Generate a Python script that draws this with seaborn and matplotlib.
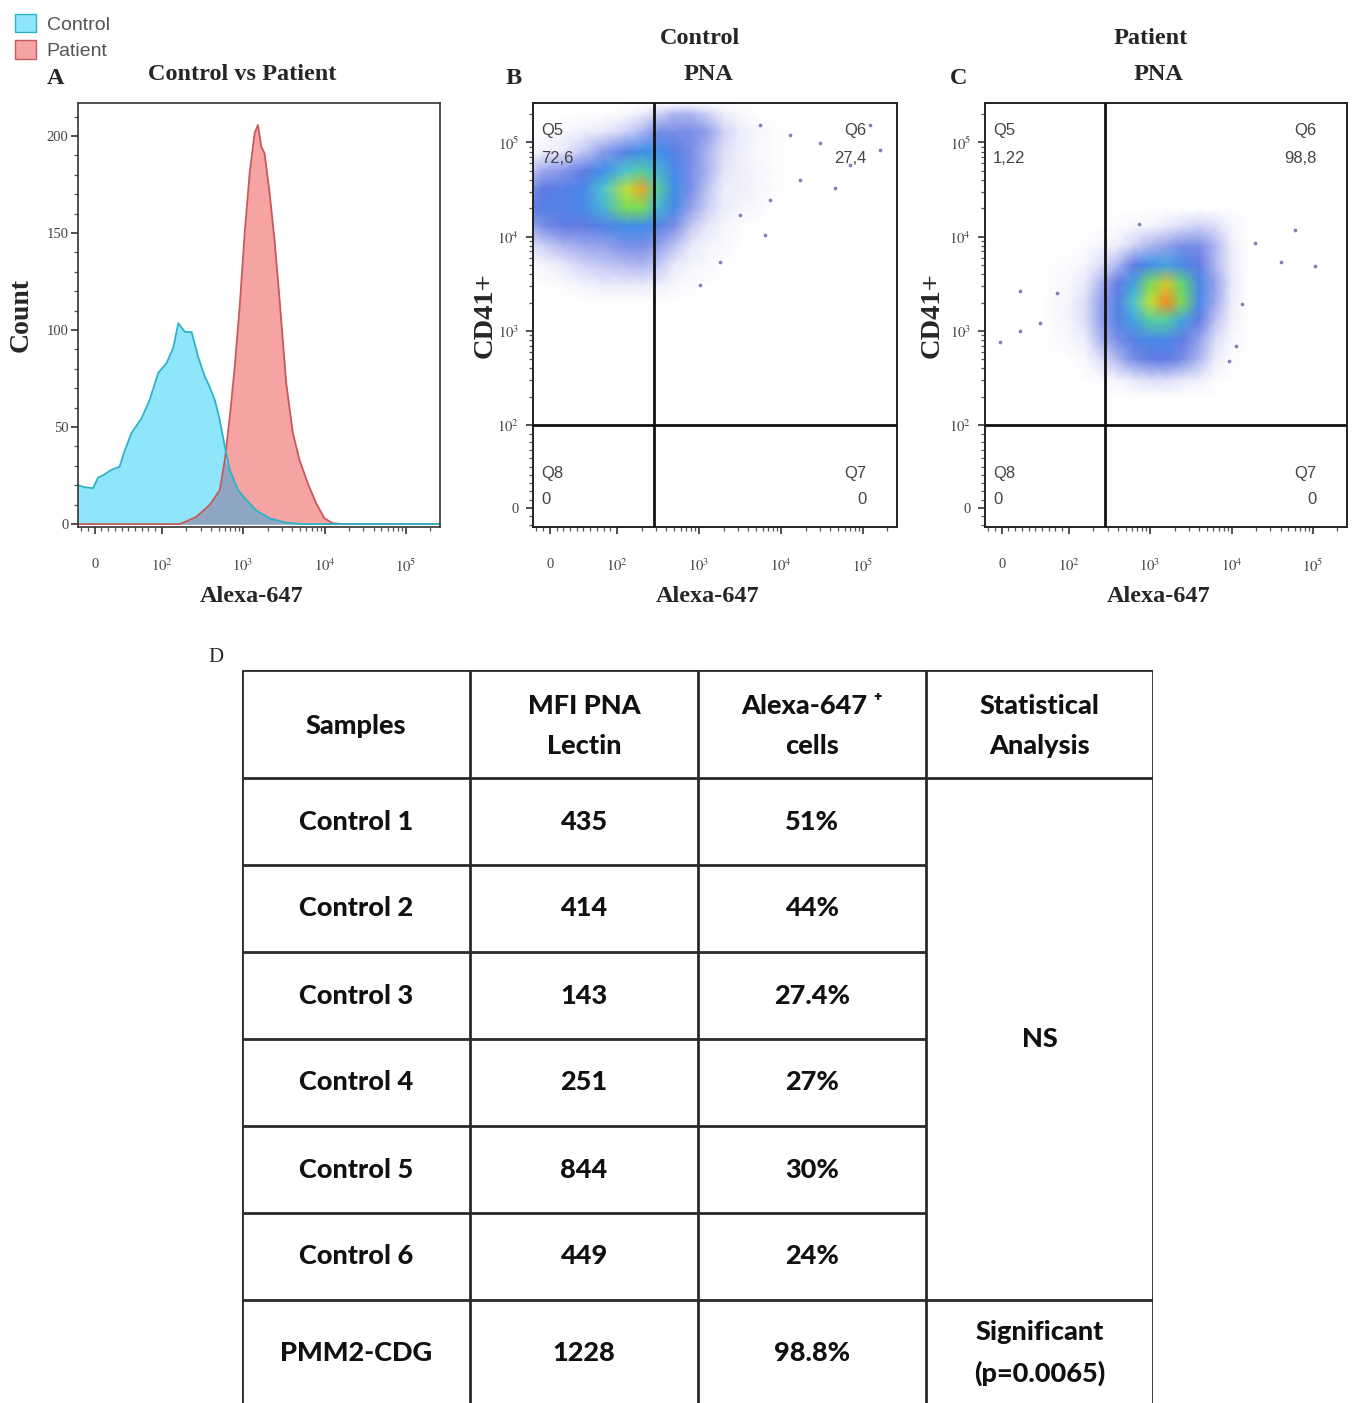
import numpy as np
import matplotlib
matplotlib.use("Agg")
import matplotlib.pyplot as plt
import seaborn as sns
from matplotlib.colors import LinearSegmentedColormap
from matplotlib.patches import Patch
from matplotlib.ticker import FixedLocator, FixedFormatter, MultipleLocator

# ---------------- data ----------------
# A: histogram of Alexa-647 (fluorescence value, count)
ctrl_x = [-25, -15, -2.5, 5, 12, 25, 37, 45, 55, 70, 82, 95, 115, 139, 160, 193, 233, 281,
          339, 372, 449, 517, 596, 686, 867, 1097, 1454, 2117, 3388, 5360, 262144]
ctrl_count = [20, 19, 18.5, 24, 25, 28, 29.5, 38, 47, 54.5, 64, 78, 83, 91, 103.5, 99, 99, 86,
              76, 72.5, 64, 53.6, 40, 28, 17.5, 12.4, 7, 3, 0.7, 0, 0]
pat_x = [-25, 168, 268, 390, 517, 596, 686, 789, 908, 1046, 1205, 1387, 1521, 1674, 1837,
         2117, 2438, 2808, 3388, 4083, 4931, 6237, 7889, 9970, 12500, 16570, 262144]
pat_count = [0, 0, 3.8, 10, 17.5, 33, 55, 81, 112, 150, 181, 201.5, 205.7, 194.5, 191,
             170.6, 146, 115.5, 72.5, 47, 33, 21, 10.8, 3, 0.5, 0, 0]

# B: Control PNA, event density read on a grid (rows listed from top to bottom)
b_gx = [-25, -10, 20, 50, 80, 130, 200, 320, 500, 800, 1300, 2000, 3200, 5000, 8000, 13000]
b_gy = [262144, 200000, 130000, 80000, 50000, 32000, 20000, 13000, 8000, 5000, 3000, 2000]
b_density = [
    [0, 0, 0, 0, 0, 0, 0, 0, 0, 0, 0, 0, 0, 0, 0, 0],
    [0, 0, 0, 0, 0, 0.2, 0.5, 1, 1.5, 1.5, 1, 0.5, 0.2, 0, 0, 0],
    [0, 0, 0.2, 0.4, 0.6, 1, 1.5, 2.5, 2.5, 2.5, 2, 1, 0.5, 0.3, 0.1, 0],
    [0.2, 0.4, 0.6, 1.2, 2.2, 3.5, 4.5, 4.5, 3.5, 2.5, 1.5, 0.8, 0.4, 0.2, 0.1, 0],
    [1.3, 1.8, 2.3, 3, 4.5, 6, 6.5, 5.5, 4, 2.5, 1.5, 0.7, 0.4, 0.3, 0.1, 0],
    [2.5, 3, 3.5, 4, 6, 8.5, 9.5, 6.5, 4.5, 2.5, 1.2, 0.5, 0.4, 0.3, 0.1, 0],
    [3, 3.5, 3.5, 4, 5.5, 7.5, 7.5, 5.5, 4, 2, 1, 0.5, 0.3, 0.2, 0, 0],
    [2, 2.5, 3, 3, 3.5, 4.5, 4.5, 3.5, 2.5, 1.2, 0.6, 0.3, 0.1, 0, 0, 0],
    [0.8, 1, 1.5, 1.8, 2, 2.5, 2.5, 2, 1.3, 0.6, 0.3, 0.2, 0, 0, 0, 0],
    [0.2, 0.3, 0.6, 1, 1.2, 1.4, 1.5, 1.2, 0.6, 0.3, 0.2, 0, 0, 0, 0, 0],
    [0, 0, 0.1, 0.3, 0.5, 0.5, 0.5, 0.4, 0.2, 0.1, 0, 0, 0, 0, 0, 0],
    [0, 0, 0, 0, 0, 0, 0, 0, 0, 0, 0, 0, 0, 0, 0, 0],
]
b_out_x = [5520, 12800, 30000, 69700, 17100, 7360, 45700, 3160, 6380, 1800, 1030, 122000, 162000]
b_out_y = [152800, 119400, 98400, 57400, 39800, 24400, 32700, 16900, 10400, 5380, 3070, 152800, 82800]

# C: Patient PNA
c_gx = [60, 100, 160, 250, 400, 630, 1000, 1600, 2500, 4000, 6300, 10000, 16000]
c_gy = [20000, 13000, 8000, 5000, 3200, 2000, 1300, 800, 500, 300, 200]
c_density = [
    [0, 0, 0, 0, 0, 0, 0, 0, 0, 0, 0, 0, 0],
    [0, 0, 0, 0, 0.1, 0.2, 0.3, 0.6, 0.8, 1, 0.8, 0.3, 0],
    [0, 0, 0.1, 0.3, 0.5, 1, 1.5, 2, 2.5, 2.5, 1.5, 0.5, 0],
    [0, 0.1, 0.3, 0.8, 1.5, 3, 4.5, 5, 4, 3, 1.5, 0.5, 0],
    [0, 0.2, 0.6, 1.5, 3, 5, 7.5, 9, 7, 4, 2, 0.6, 0],
    [0, 0.3, 0.8, 2, 3.5, 6, 8.5, 10, 7.5, 4, 1.8, 0.5, 0],
    [0, 0.3, 0.8, 2, 3.5, 5, 6.5, 6.5, 5, 3, 1.3, 0.4, 0],
    [0, 0.2, 0.5, 1.5, 2.5, 3.5, 4, 4, 3, 2, 0.8, 0.2, 0],
    [0, 0, 0.2, 0.8, 1.5, 2.5, 3, 3, 2.5, 1.5, 0.5, 0.1, 0],
    [0, 0, 0, 0.1, 0.3, 0.6, 0.8, 0.8, 0.6, 0.4, 0.1, 0, 0],
    [0, 0, 0, 0, 0, 0, 0, 0, 0, 0, 0, 0, 0],
]
c_out_x = [27, -2.7, 27, 57, 82, 60500, 106000, 40800, 19700, 733, 13300, 11200, 9200]
c_out_y = [2650, 762, 998, 1210, 2520, 11700, 4880, 5380, 8550, 13600, 1930, 692, 480]

gate_x = 280
gate_y = 100
b_quads = ["72,6", "27,4", "0", "0"]   # Q5, Q6, Q8, Q7
c_quads = ["1,22", "98,8", "0", "0"]

# D: table
samples = ["Control 1", "Control 2", "Control 3", "Control 4", "Control 5", "Control 6", "PMM2-CDG"]
mfi_pna = [435, 414, 143, 251, 844, 449, 1228]
alexa_pos = ["51%", "44%", "27.4%", "27%", "30%", "24%", "98.8%"]
headers = ["Samples", "MFI PNA\nLectin", "Alexa-647 \u207a\ncells", "Statistical\nAnalysis"]
stat_ctrl = "NS"
stat_pat = "Significant\n(p=0.0065)"

# ---------------- style ----------------
sns.set_theme(style="ticks")
plt.rcParams['font.family'] = ['Liberation Serif', 'DejaVu Serif']
plt.rcParams['mathtext.fontset'] = 'stix'

W, H = 1352, 1403
fig = plt.figure(figsize=(W / 100, H / 100), dpi=100)
fig.patch.set_facecolor('white')


def fxy(px, py):
    return px / W, 1 - py / H


def ax_rect(left, top, right, bottom):
    return [left / W, 1 - bottom / H, (right - left) / W, (bottom - top) / H]


serif_bold = dict(family=['Liberation Serif', 'DejaVu Serif'], fontweight='bold')
major = [0, 1e2, 1e3, 1e4, 1e5]
major_lbl = ['0', r'$10^{2}$', r'$10^{3}$', r'$10^{4}$', r'$10^{5}$']
minor = [-20, -10] + list(range(10, 100, 10)) + [m * 10 ** k for k in range(2, 6) for m in range(2, 10)]


def flow_axis(ax, which):
    axis = ax.xaxis if which == 'x' else ax.yaxis
    axis.set_major_locator(FixedLocator(major))
    axis.set_major_formatter(FixedFormatter(major_lbl))
    axis.set_minor_locator(FixedLocator(minor))


ctrl_fill, ctrl_edge = '#8fe6fa', '#2bb3c6'
pat_fill, pat_edge = '#f5a3a3', '#c8585a'
overlap_fill = '#8ea6c2'

# ---------------- A: histogram ----------------
axA = fig.add_axes(ax_rect(78, 103, 440, 527))
axA.set_xscale('symlog', linthresh=100, linscale=0.74, base=10)
axA.set_xlim(-25, 262144)
axA.set_ylim(-1.5, 217)

axA.fill_between(pat_x, 0, pat_count, color=pat_fill, lw=0)
axA.fill_between(ctrl_x, 0, ctrl_count, color=ctrl_fill, lw=0)
tr = axA.xaxis.get_transform()
grid = np.union1d(ctrl_x, pat_x)
tg = tr.transform(grid.reshape(-1, 1)).ravel()
c_i = np.interp(tg, tr.transform(np.reshape(ctrl_x, (-1, 1))).ravel(), ctrl_count)
p_i = np.interp(tg, tr.transform(np.reshape(pat_x, (-1, 1))).ravel(), pat_count)
axA.fill_between(grid, 0, np.minimum(c_i, p_i), color=overlap_fill, lw=0)
sns.lineplot(x=pat_x, y=pat_count, ax=axA, color=pat_edge, lw=1.3, sort=False, estimator=None)
sns.lineplot(x=ctrl_x, y=ctrl_count, ax=axA, color=ctrl_edge, lw=1.3, sort=False, estimator=None)

flow_axis(axA, 'x')
axA.yaxis.set_major_locator(FixedLocator([0, 50, 100, 150, 200]))
axA.yaxis.set_minor_locator(MultipleLocator(10))
axA.set_ylabel('Count', fontsize=20, **serif_bold)
axA.yaxis.set_label_coords(-0.122, 0.5)
axA.set_xlabel('Alexa-647', fontsize=17.5, **serif_bold)
axA.xaxis.set_label_coords(0.48, -0.138)


def style_frame(ax, ypad):
    for s in ax.spines.values():
        s.set_color('#333333')
        s.set_linewidth(1.2)
    ax.tick_params(axis='both', which='major', length=5, width=1.2, color='#333333',
                   labelsize=10.5, labelcolor='#444444')
    ax.tick_params(axis='both', which='minor', length=3, width=0.9, color='#555555')
    ax.tick_params(axis='x', which='major', pad=17)
    ax.tick_params(axis='y', which='major', pad=ypad)
    ax.set_facecolor('white')


style_frame(axA, 2)

# legend
fig.legend(handles=[Patch(facecolor=ctrl_fill, edgecolor=ctrl_edge, label='Control'),
                    Patch(facecolor=pat_fill, edgecolor=pat_edge, label='Patient')],
           loc='upper left', bbox_to_anchor=(0.008, 0.993), frameon=False,
           prop={'family': ['Liberation Sans', 'DejaVu Sans'], 'size': 14},
           labelcolor='#555555', handlelength=1.1, handleheight=1.1,
           labelspacing=0.35, handletextpad=0.55, borderpad=0.1, borderaxespad=0.1)

# ---------------- B and C: density plots ----------------
flow_cmap = LinearSegmentedColormap.from_list('flow', [
    (0.0, (1, 1, 1)), (0.06, (0.91, 0.91, 0.98)), (0.15, (0.68, 0.71, 0.94)),
    (0.3, (0.38, 0.48, 0.89)), (0.45, (0.25, 0.56, 0.92)), (0.6, (0.3, 0.78, 0.8)),
    (0.72, (0.38, 0.85, 0.4)), (0.86, (0.78, 0.88, 0.22)), (1.0, (0.95, 0.55, 0.15))])


def density_panel(rect, gx, gy, dens, ox, oy, quads):
    ax = fig.add_axes(rect)
    ax.set_xscale('symlog', linthresh=100, linscale=0.74, base=10)
    ax.set_yscale('symlog', linthresh=100, linscale=0.79, base=10)
    ax.set_xlim(-25, 262144)
    ax.set_ylim(-23, 262144)
    X, Y = np.meshgrid(gx, gy)
    ax.pcolormesh(X, Y, np.array(dens), shading='gouraud', cmap=flow_cmap, vmin=0, vmax=10,
                  zorder=1)
    sns.scatterplot(x=ox, y=oy, ax=ax, s=7, color='#7d7fb5', linewidth=0, zorder=2)
    ax.axvline(gate_x, color='#111111', lw=2, zorder=3)
    ax.axhline(gate_y, color='#111111', lw=2, zorder=3)
    flow_axis(ax, 'x')
    flow_axis(ax, 'y')
    style_frame(ax, 5)
    for s in ax.spines.values():
        s.set_color('#222222')
        s.set_linewidth(1.4)
    qk = dict(transform=ax.transAxes, fontsize=12, color='#444444',
              family=['Liberation Sans', 'DejaVu Sans'], va='center')
    ax.text(0.022, 0.934, 'Q5', ha='left', **qk)
    ax.text(0.022, 0.870, quads[0], ha='left', **qk)
    ax.text(0.916, 0.934, 'Q6', ha='right', **qk)
    ax.text(0.916, 0.870, quads[1], ha='right', **qk)
    ax.text(0.022, 0.125, 'Q8', ha='left', **qk)
    ax.text(0.022, 0.064, quads[2], ha='left', **qk)
    ax.text(0.916, 0.125, 'Q7', ha='right', **qk)
    ax.text(0.916, 0.064, quads[3], ha='right', **qk)
    ax.set_xlabel('Alexa-647', fontsize=17.5, **serif_bold)
    ax.xaxis.set_label_coords(0.48, -0.138)
    ax.set_ylabel('CD41+', fontsize=20.5, **serif_bold)
    return ax


axB = density_panel(ax_rect(533, 103, 897, 527), b_gx, b_gy, b_density, b_out_x, b_out_y, b_quads)
axB.yaxis.set_label_coords(-0.097, 0.5)
axC = density_panel(ax_rect(985, 103, 1347, 527), c_gx, c_gy, c_density, c_out_x, c_out_y, c_quads)
axC.yaxis.set_label_coords(-0.111, 0.5)

# titles and panel letters
tk = dict(ha='center', va='center', fontsize=17.5, **serif_bold)
fig.text(*fxy(242, 74), 'Control vs Patient', **tk)
fig.text(*fxy(700, 38), 'Control', **tk)
fig.text(*fxy(708, 74), 'PNA', **tk)
fig.text(*fxy(1151, 38), 'Patient', **tk)
fig.text(*fxy(1158, 74), 'PNA', **tk)
fig.text(*fxy(56, 78), 'A', **tk)
fig.text(*fxy(514, 78), 'B', **tk)
fig.text(*fxy(959, 78), 'C', **tk)
fig.text(*fxy(216, 657), 'D', ha='center', va='center', fontsize=15,
         family=['Liberation Serif', 'DejaVu Serif'])

# ---------------- D: table ----------------
tfam, tsize = ['Lato', 'DejaVu Sans'], 19.5

axT = fig.add_axes(ax_rect(242, 670, 1153, H))
axT.set_xlim(0, 911)
axT.set_ylim(733, 0)
axT.axis('off')
col_edges = [0, 228, 456, 684, 911]
row_h = [108] + [87] * 6 + [110]
row_edges = np.concatenate([[0], np.cumsum(row_h)])
lk = dict(color='#2a2a2a', lw=2.0)
axT.vlines(col_edges, 0, 733, **lk)
axT.hlines([row_edges[0], row_edges[1], row_edges[7]], 0, 911, **lk)
axT.hlines(row_edges[2:7], 0, col_edges[3], **lk)

txt = dict(ha='center', va='center', fontsize=tsize, fontweight='black', family=tfam,
           color='#111111', linespacing=1.75)
cx = [(col_edges[i] + col_edges[i + 1]) / 2 for i in range(4)]
for i, h in enumerate(headers):
    axT.text(cx[i], row_h[0] / 2 + 2, h, **txt)
for r in range(len(samples)):
    cy = (row_edges[r + 1] + row_edges[r + 2]) / 2
    if r == len(samples) - 1:
        cy = row_edges[r + 1] + 53
    axT.text(cx[0], cy, samples[r], **txt)
    axT.text(cx[1], cy, str(mfi_pna[r]), **txt)
    axT.text(cx[2], cy, alexa_pos[r], **txt)
axT.text(cx[3], (row_edges[1] + row_edges[7]) / 2, stat_ctrl, **txt)
axT.text(cx[3], row_edges[7] + 53, stat_pat, **txt)

fig.savefig('out.png', dpi=100, facecolor='white')
